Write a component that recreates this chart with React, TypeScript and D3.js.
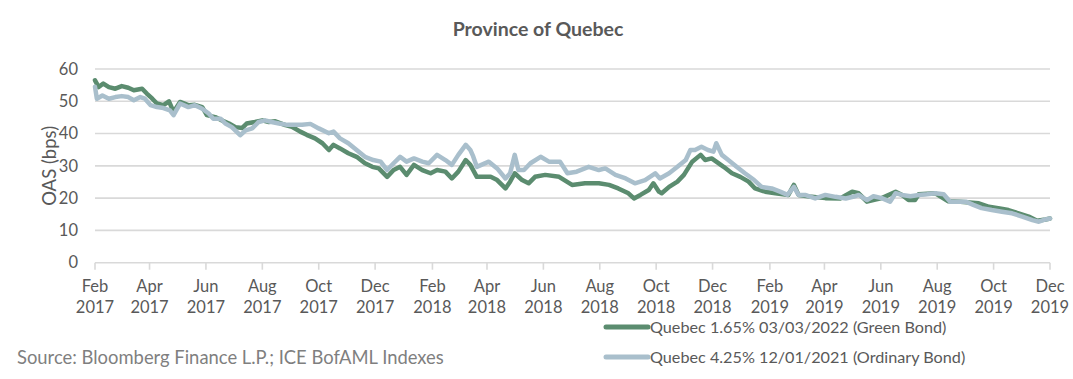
import React from "react";
import * as d3 from "d3";

const TITLE = "Province of Quebec";
const Y_TITLE = "OAS (bps)";
const SOURCE = "Source: Bloomberg Finance L.P.; ICE BofAML Indexes";
const GREEN_NAME = "Quebec 1.65% 03/03/2022 (Green Bond)";
const BLUE_NAME = "Quebec 4.25% 12/01/2021 (Ordinary Bond)";

const yTicks = [0, 10, 20, 30, 40, 50, 60];
const xTickDates = [
  "2017-02-01", "2017-04-01", "2017-06-01", "2017-08-01", "2017-10-01", "2017-12-01",
  "2018-02-01", "2018-04-01", "2018-06-01", "2018-08-01", "2018-10-01", "2018-12-01",
  "2019-02-01", "2019-04-01", "2019-06-01", "2019-08-01", "2019-10-01", "2019-12-01",
];

const greenSeries: [string, number][] = [
  ["2017-02-01", 56.5], ["2017-02-05", 54.4], ["2017-02-10", 55.5], ["2017-02-16", 54.4], ["2017-02-23", 53.9],
  ["2017-03-02", 54.7], ["2017-03-09", 54.2], ["2017-03-15", 53.4], ["2017-03-24", 53.9], ["2017-03-29", 52.4],
  ["2017-04-04", 50.8], ["2017-04-09", 49.3], ["2017-04-16", 48.8], ["2017-04-22", 50.0], ["2017-04-27", 46.7],
  ["2017-05-04", 49.8], ["2017-05-13", 48.8], ["2017-05-20", 48.9], ["2017-05-28", 48.2], ["2017-06-02", 45.7],
  ["2017-06-11", 45.1], ["2017-06-18", 44.1], ["2017-06-26", 43.1], ["2017-07-03", 42.0], ["2017-07-10", 41.7],
  ["2017-07-15", 43.1], ["2017-07-24", 43.6], ["2017-08-01", 44.1], ["2017-08-08", 43.6], ["2017-08-15", 43.8],
  ["2017-08-26", 42.6], ["2017-09-02", 42.1], ["2017-09-11", 40.6], ["2017-09-18", 39.6], ["2017-09-27", 38.5],
  ["2017-10-05", 37.0], ["2017-10-12", 34.9], ["2017-10-17", 36.5], ["2017-10-24", 35.4], ["2017-11-02", 33.9],
  ["2017-11-11", 32.8], ["2017-11-20", 30.8], ["2017-11-28", 29.7], ["2017-12-05", 29.2], ["2017-12-14", 26.6],
  ["2017-12-21", 28.7], ["2017-12-28", 29.7], ["2018-01-04", 27.2], ["2018-01-12", 30.3], ["2018-01-21", 28.7],
  ["2018-01-30", 27.7], ["2018-02-06", 28.7], ["2018-02-15", 28.2], ["2018-02-22", 26.1], ["2018-03-01", 28.2],
  ["2018-03-09", 31.8], ["2018-03-14", 30.3], ["2018-03-21", 26.6], ["2018-03-27", 26.6], ["2018-04-05", 26.6],
  ["2018-04-12", 25.6], ["2018-04-21", 23.0], ["2018-04-26", 25.1], ["2018-05-01", 27.7], ["2018-05-09", 25.6],
  ["2018-05-16", 24.6], ["2018-05-23", 26.6], ["2018-06-03", 27.2], ["2018-06-18", 26.6], ["2018-07-02", 24.1],
  ["2018-07-16", 24.6], ["2018-07-31", 24.6], ["2018-08-11", 24.1], ["2018-08-21", 23.0], ["2018-09-01", 21.5],
  ["2018-09-07", 19.9], ["2018-09-14", 21.0], ["2018-09-23", 22.5], ["2018-09-28", 24.6], ["2018-10-04", 22.0],
  ["2018-10-07", 21.5], ["2018-10-15", 23.5], ["2018-10-24", 25.1], ["2018-10-31", 27.2], ["2018-11-09", 31.3],
  ["2018-11-18", 33.4], ["2018-11-23", 31.8], ["2018-11-30", 32.3], ["2018-12-05", 31.3], ["2018-12-13", 29.7],
  ["2018-12-22", 27.7], ["2018-12-31", 26.6], ["2019-01-09", 25.1], ["2019-01-16", 23.0], ["2019-01-27", 22.0],
  ["2019-02-07", 21.5], ["2019-02-21", 21.0], ["2019-02-27", 24.1], ["2019-03-04", 21.0], ["2019-03-16", 20.5],
  ["2019-04-02", 20.0], ["2019-04-18", 19.9], ["2019-05-01", 22.0], ["2019-05-08", 21.5], ["2019-05-17", 18.9],
  ["2019-06-02", 20.0], ["2019-06-17", 22.0], ["2019-06-24", 21.0], ["2019-07-01", 19.4], ["2019-07-08", 19.4],
  ["2019-07-12", 21.2], ["2019-07-30", 21.5], ["2019-08-13", 19.0], ["2019-08-26", 18.9], ["2019-09-15", 18.4],
  ["2019-09-26", 17.3], ["2019-10-06", 16.9], ["2019-10-17", 16.3], ["2019-10-28", 15.3], ["2019-11-08", 14.3],
  ["2019-11-17", 13.0], ["2019-11-26", 13.4], ["2019-12-01", 13.7],
];

const blueSeries: [string, number][] = [
  ["2017-02-01", 54.5], ["2017-02-03", 50.8], ["2017-02-09", 51.8], ["2017-02-16", 50.8], ["2017-02-23", 51.3],
  ["2017-03-02", 51.6], ["2017-03-09", 51.3], ["2017-03-15", 50.3], ["2017-03-22", 51.3], ["2017-03-27", 50.8],
  ["2017-04-02", 48.8], ["2017-04-09", 48.2], ["2017-04-16", 47.9], ["2017-04-23", 47.2], ["2017-04-27", 45.7],
  ["2017-05-04", 49.3], ["2017-05-13", 48.2], ["2017-05-20", 48.8], ["2017-05-28", 47.7], ["2017-06-04", 46.2],
  ["2017-06-09", 44.6], ["2017-06-17", 44.6], ["2017-06-22", 43.1], ["2017-06-29", 42.0], ["2017-07-08", 39.5],
  ["2017-07-14", 41.0], ["2017-07-21", 41.6], ["2017-07-28", 43.6], ["2017-08-04", 44.1], ["2017-08-11", 43.6],
  ["2017-08-19", 43.1], ["2017-08-28", 42.7], ["2017-09-02", 42.7], ["2017-09-13", 42.7], ["2017-09-22", 43.0],
  ["2017-10-01", 41.6], ["2017-10-12", 40.1], ["2017-10-17", 40.6], ["2017-10-24", 38.5], ["2017-11-02", 37.0],
  ["2017-11-11", 34.9], ["2017-11-20", 32.8], ["2017-11-29", 31.8], ["2017-12-07", 31.3], ["2017-12-14", 28.7],
  ["2017-12-21", 30.8], ["2017-12-28", 32.8], ["2018-01-04", 31.3], ["2018-01-12", 32.3], ["2018-01-21", 31.3],
  ["2018-01-28", 30.8], ["2018-02-06", 33.4], ["2018-02-15", 31.8], ["2018-02-22", 30.3], ["2018-03-01", 33.4],
  ["2018-03-09", 36.5], ["2018-03-14", 34.9], ["2018-03-17", 33.0], ["2018-03-21", 29.7], ["2018-04-03", 31.3],
  ["2018-04-12", 29.2], ["2018-04-21", 26.1], ["2018-04-26", 27.7], ["2018-05-01", 33.4], ["2018-05-05", 28.7],
  ["2018-05-11", 28.7], ["2018-05-18", 30.8], ["2018-05-29", 32.8], ["2018-06-07", 31.3], ["2018-06-19", 31.3],
  ["2018-06-27", 27.7], ["2018-07-07", 28.2], ["2018-07-20", 29.7], ["2018-07-31", 28.7], ["2018-08-07", 29.2],
  ["2018-08-18", 27.2], ["2018-08-29", 26.1], ["2018-09-08", 24.6], ["2018-09-19", 25.6], ["2018-09-30", 27.7],
  ["2018-10-05", 26.1], ["2018-10-15", 27.7], ["2018-10-24", 29.7], ["2018-11-02", 31.8], ["2018-11-07", 34.9],
  ["2018-11-12", 34.9], ["2018-11-19", 35.9], ["2018-11-26", 34.9], ["2018-12-02", 34.4], ["2018-12-05", 37.0],
  ["2018-12-11", 33.4], ["2018-12-18", 31.8], ["2018-12-27", 29.7], ["2019-01-05", 27.7], ["2019-01-15", 25.6],
  ["2019-01-23", 23.5], ["2019-02-03", 23.0], ["2019-02-12", 22.0], ["2019-02-20", 21.0], ["2019-02-27", 23.5],
  ["2019-03-04", 21.0], ["2019-03-11", 21.0], ["2019-03-22", 19.9], ["2019-04-02", 21.0], ["2019-04-13", 20.4],
  ["2019-04-24", 19.9], ["2019-05-03", 20.5], ["2019-05-08", 21.0], ["2019-05-17", 19.4], ["2019-05-24", 20.6],
  ["2019-06-02", 20.0], ["2019-06-11", 18.9], ["2019-06-17", 21.5], ["2019-06-24", 21.0], ["2019-07-03", 20.6],
  ["2019-07-12", 21.0], ["2019-07-21", 21.2], ["2019-07-30", 21.5], ["2019-08-08", 21.2], ["2019-08-15", 18.9],
  ["2019-08-24", 18.9], ["2019-09-01", 18.9], ["2019-09-09", 17.9], ["2019-09-18", 16.9], ["2019-09-29", 16.3],
  ["2019-10-10", 15.8], ["2019-10-21", 15.3], ["2019-11-01", 14.3], ["2019-11-12", 13.2], ["2019-11-19", 12.7],
  ["2019-11-26", 13.4], ["2019-12-01", 13.7],
];

const GREEN = "#5b8c6f";
const BLUE = "#a9bfcc";
const GRID = "#d9d9d9";
const TEXT = "#595959";
const FONT = "Lato, 'Open Sans', sans-serif";
const monthFmt = d3.timeFormat("%b");
const yearFmt = d3.timeFormat("%Y");

export default function App() {
  const W = 1073;
  const H = 379;
  const left = 95;
  const right = 1050;
  const top = 69;
  const bottom = 262.7;
  const parse = d3.timeParse("%Y-%m-%d");

  const x = d3
    .scaleTime()
    .domain([parse("2017-02-01") as Date, parse("2019-12-01") as Date])
    .range([left, right]);
  const y = d3.scaleLinear().domain([0, 60]).range([bottom, top]);

  const line = d3
    .line<[string, number]>()
    .x((d) => x(parse(d[0]) as Date))
    .y((d) => y(d[1]))
    .curve(d3.curveLinear);

  return (
    <svg
      width={W}
      height={H}
      style={{ position: "absolute", left: 0, top: 0, background: "#fff" }}
      fontFamily={FONT}
    >
      <rect x={0} y={0} width={W} height={H} fill="#fff" />
      <text x={538} y={36} textAnchor="middle" fontSize={19.5} fontWeight="bold" fill={TEXT}>
        {TITLE}
      </text>
      {yTicks.map((t) => (
        <g key={t}>
          <line x1={left} x2={right} y1={y(t)} y2={y(t)} stroke={GRID} strokeWidth={1.6} />
          <text x={78} y={y(t)} dy="0.35em" textAnchor="end" fontSize={16.5} fill={TEXT}>
            {t}
          </text>
        </g>
      ))}
      {xTickDates.map((s) => {
        const d = parse(s) as Date;
        const xx = x(d);
        return (
          <g key={s}>
            <line x1={xx} x2={xx} y1={bottom} y2={bottom + 7} stroke={GRID} strokeWidth={1.6} />
            <text x={xx} y={292} textAnchor="middle" fontSize={16.5} fill={TEXT}>
              {monthFmt(d)}
            </text>
            <text x={xx} y={313} textAnchor="middle" fontSize={16.5} fill={TEXT}>
              {yearFmt(d)}
            </text>
          </g>
        );
      })}
      <text
        transform={`translate(56, ${(top + bottom) / 2}) rotate(-90)`}
        textAnchor="middle"
        fontSize={18.5}
        fill={TEXT}
      >
        {Y_TITLE}
      </text>
      <path d={line(greenSeries) || ""} fill="none" stroke={GREEN} strokeWidth={4.5} strokeLinejoin="round" strokeLinecap="round" />
      <path d={line(blueSeries) || ""} fill="none" stroke={BLUE} strokeWidth={4.5} strokeLinejoin="round" strokeLinecap="round" />
      <line x1={606} x2={648} y1={327} y2={327} stroke={GREEN} strokeWidth={5} strokeLinecap="round" />
      <text x={650} y={333} fontSize={16.2} fill={TEXT}>
        {GREEN_NAME}
      </text>
      <line x1={606} x2={648} y1={357} y2={357} stroke={BLUE} strokeWidth={5} strokeLinecap="round" />
      <text x={650} y={363} fontSize={16.2} fill={TEXT}>
        {BLUE_NAME}
      </text>
      <text x={17} y={364} fontSize={18.4} fill="#7f7f7f">
        {SOURCE}
      </text>
    </svg>
  );
}
